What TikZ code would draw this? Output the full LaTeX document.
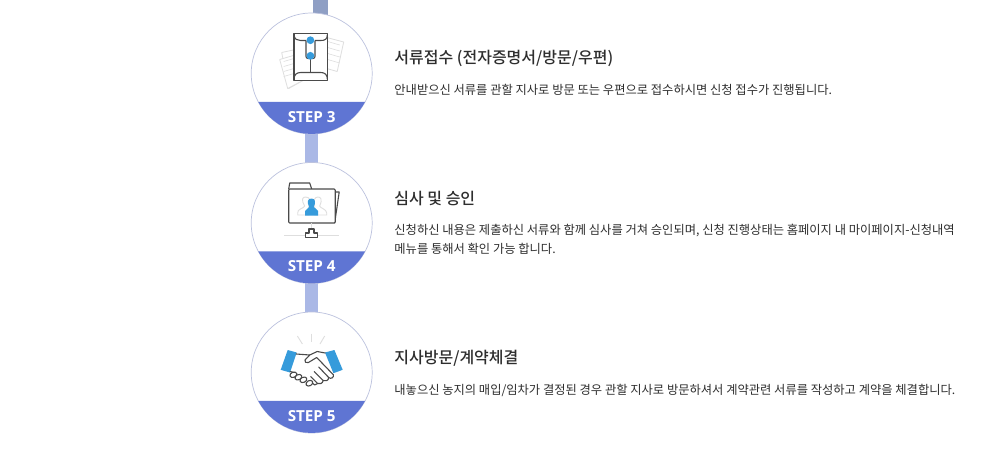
\documentclass[tikz,border=0pt]{standalone}
\usepackage{fontspec}
\setmainfont{Noto Sans CJK KR}
\newfontfamily\medfont{Noto Sans CJK KR Medium}
\newfontfamily\labelfont{Open Sans}
\usetikzlibrary{positioning,backgrounds}
\definecolor{bandblue}{HTML}{5F75D3}
\definecolor{linkblue}{HTML}{AAB8E6}
\definecolor{stubblue}{HTML}{8F9FC4}
\definecolor{ringblue}{HTML}{BCC2DE}
\definecolor{iconblue}{HTML}{369BDB}
\definecolor{icongray}{HTML}{4A4A4A}
\definecolor{palegray}{HTML}{DEDEDE}
\definecolor{inktext}{HTML}{2E2E2E}
\begin{document}
\begin{tikzpicture}[
	x=1pt, y=-1pt,
	node distance=28.5pt,
	stepcircle/.style={circle, draw=ringblue, line width=0.7pt, fill=white, minimum size=121pt, inner sep=0pt, outer sep=0pt},
	steplabel/.style={font=\fontsize{15.2}{15}\labelfont\bfseries, text=white, inner sep=0pt},
	title/.style={font=\fontsize{16}{19}\medfont, text=inktext, inner sep=0pt, anchor=west},
	desc/.style={font=\fontsize{12.28}{19}\selectfont, text=inktext, inner sep=0pt, align=left},
	link/.style={draw=linkblue, line width=13pt, shorten <=-2pt, shorten >=-2pt},
	stub/.style={draw=stubblue, line width=14.5pt},
	band/.style={fill=bandblue, draw=none},
	outline/.style={draw=icongray, line width=1.1pt, line join=round, fill=white},
	paper/.style={draw=palegray, line width=0.8pt, line join=round, fill=white},
	dot/.style={fill=iconblue, draw=none}
]
\useasboundingbox (0,0) rectangle (992,450);
% circles
\node (step3) [stepcircle] at (311.7,73.5) {};
\node (step4) [stepcircle, below=of step3] {};
\node (step5) [stepcircle, below=of step4] {};
% connectors
\coordinate (stubtop) at (320.5,0);
\coordinate (stubend) at (320.5,18);
\begin{scope}[on background layer]
\fill [white] (0,0) rectangle (992,450);
\draw [stub] (stubtop) -- (stubend);
\draw [link] (step3) -- (step4);
\draw [link] (step4) -- (step5);
\end{scope}
% bands
\foreach \n in {3,4,5} {
	\fill [band] (step\n.208.1) arc[start angle=208.1, end angle=331.9, radius=60.5pt] -- cycle;
	\node (label\n) [steplabel] at ([yshift=-43.3pt]step\n.center) {STEP \n};
}
% envelope
\begin{scope}[shift={(step3.center)}]
\draw [paper] (-30,-21) -- (-7,-26) -- (-7,6) -- (-23,15) -- cycle;
\draw [paper] (-32,-14) -- (-8,-21) -- (-7,6) -- (-24,15) -- cycle;
\foreach \d in {0,5,10,15} \draw [palegray, line width=0.6pt] (-28,{-12+\d}) -- (-17.7,{-15+\d});
\draw [paper] (15,-36) -- (32,-31.5) -- (25.5,-2) -- (15,-5) -- cycle;
\foreach \d in {0,6,12,18} \draw [palegray, line width=0.6pt] (16,{-32+\d}) -- (28,{-28.5+\d});
\draw [outline] (-17.7,-39.7) rectangle (15.7,6.7);
\draw [outline, fill=none] (-17.7,-39) .. controls (-17.7,-34) and (-14,-33) .. (-11,-33) -- (-5.7,-33);
\draw [outline, fill=none] (3.3,-33) -- (9,-33) .. controls (13,-33) and (15.7,-34) .. (15.7,-39);
\draw [outline, fill=none, rounded corners=2pt] (-5.7,-33) -- (-5.7,-15) -- (3.3,-15) -- (3.3,-33);
\draw [outline, fill=none] (-1.3,-17.7) -- (-1.3,-1);
\draw [outline, fill=none] (-17.7,6) .. controls (-17.7,1) and (-15,-1) .. (-11,-1) -- (9,-1) .. controls (13,-1) and (15.7,1) .. (15.7,6);
\fill [dot] (-1.3,-33.3) circle (3.9);
\fill [dot] (-1.3,-17.7) circle (3.9);
\end{scope}
% folder
\begin{scope}[shift={(step4.center)}]
\draw [outline] (23,-31) -- (27.5,-31) -- (23,0) -- cycle;
\draw [outline] (-23,-34) -- (-22,-40) -- (-2,-40) -- (0,-34);
\draw [outline, rounded corners=1pt] (-23,-34) rectangle (23.5,0);
\draw [palegray, line width=0.9pt, fill=white] (-14,-10) .. controls (-15,-14) and (-7,-15) .. (-7,-17) .. controls (-11,-24) and (-9,-26) .. (-6,-26) .. controls (-2,-26) and (0,-22) .. (-3,-17) -- (-3,-8) -- (-14,-8) -- cycle;
\draw [palegray, line width=0.9pt, fill=white] (15,-10) .. controls (15,-14) and (8,-15) .. (8,-17) .. controls (11,-24) and (9,-26) .. (6,-26) .. controls (3,-26) and (1,-22) .. (3,-17) -- (3,-8) -- (15,-8) -- cycle;
\fill [dot] (-6.5,-7.5) -- (-6.5,-12) .. controls (-6,-14) and (-3,-14.5) .. (-2.5,-16) .. controls (-5,-21) and (-4,-24.5) .. (-0.3,-24.5) .. controls (3.5,-24.5) and (4.5,-21) .. (2,-16) .. controls (2.5,-14.5) and (6,-14) .. (6.5,-12) -- (6.5,-7.5) -- cycle;
\draw [palegray, line width=0.8pt] (-27.7,12.5) -- (-6,12.5);
\draw [palegray, line width=0.8pt] (6,12.5) -- (27.7,12.5);
\draw [palegray, line width=0.8pt] (0,0) -- (0,6);
\draw [outline, fill=none] (-2.7,6) -- (2.3,6) -- (2.3,10) -- (6,10) -- (6,14.5) -- (-6,14.5) -- (-6,10) -- (-2.7,10) -- cycle;
\end{scope}
% handshake
\begin{scope}[shift={(step5.center)}]
\draw [palegray, line width=0.9pt] (-14.3,-36.5) -- (-9.3,-28.5);
\draw [palegray, line width=0.9pt] (-0.3,-39) -- (-0.3,-31);
\draw [palegray, line width=0.9pt] (13,-36.5) -- (8.3,-28.5);
\fill [dot] (-24,-22.5) -- (-15,-20) -- (-21.7,0) -- (-31,-2.7) -- cycle;
\fill [dot] (13.3,-20) -- (22.7,-22.5) -- (31,-2.7) -- (21.7,0.7) -- cycle;
\draw [outline, fill=none, line cap=round] (-15.5,-18.5) -- (-2,-17.5) -- (-6.7,-12.5) .. controls (-8,-10.5) and (-5,-9) .. (-3.3,-10) -- (5,-15) -- (21.7,2.3);
\draw [outline, fill=none, line cap=round] (-2,-17.5) -- (5.5,-21) -- (13.5,-19.5);
\draw [outline, fill=none, line cap=round] (21.7,2.3) .. controls (22.5,5) and (19,7) .. (17,5) -- (7,-5.5);
\draw [outline, fill=none, line cap=round] (17,5) .. controls (17,8) and (13.5,9.5) .. (11.5,8) -- (2.5,-1);
\draw [outline, fill=none, line cap=round] (11.5,8) .. controls (11,11) and (8,12) .. (6,11) -- (-1,4);
\draw [outline, fill=none, line cap=round] (6,11) -- (3,12.5) -- (0,10);
\draw [outline, fill=none, line cap=round] (-21.5,-1) -- (-17.5,0);
\foreach \px/\py/\pa in {-18.3/2.3/20, -13.3/4.7/25, -8.3/7.3/25, -2.3/10.7/30} {
	\draw [outline, fill=white, rotate around={\pa:(\px,\py)}] (\px,\py) ellipse (3.6 and 2.6);
}
\end{scope}
% titles and descriptions
\node (title3) [title, right=22pt of step3, yshift=15.5pt] {서류접수 (전자증명서/방문/우편)};
\node (text3) [desc, below right=18pt and 0pt of title3.south west] {안내받으신 서류를 관할 지사로 방문 또는 우편으로 접수하시면 신청 접수가 진행됩니다.};
\node (title4) [title, right=22pt of step4, yshift=24.5pt] {심사 및 승인};
\node (text4) [desc, below right=18pt and 0pt of title4.south west] {신청하신 내용은 제출하신 서류와 함께 심사를 거쳐 승인되며, 신청 진행상태는 홈페이지 내 마이페이지-신청내역\\메뉴를 통해서 확인 가능 합니다.};
\node (title5) [title, right=22pt of step5, yshift=14.5pt] {지사방문/계약체결};
\node (text5) [desc, below right=18pt and 0pt of title5.south west] {내놓으신 농지의 매입/임차가 결정된 경우 관할 지사로 방문하셔서 계약관련 서류를 작성하고 계약을 체결합니다.};
\end{tikzpicture}
\end{document}
